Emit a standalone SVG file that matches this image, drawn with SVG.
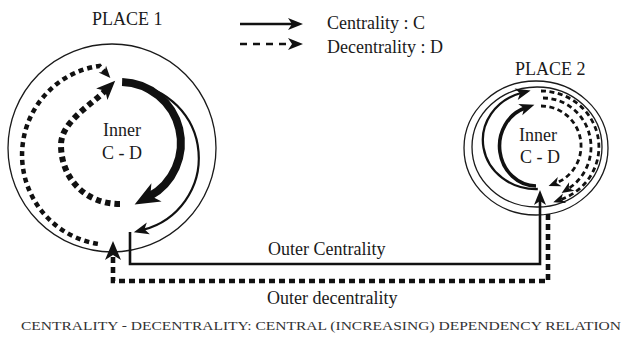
<svg xmlns="http://www.w3.org/2000/svg" width="624" height="338" viewBox="0 0 624 338">
<style>
  .t{font-family:"Liberation Serif","Times New Roman",serif;font-size:18px;fill:#1a1a1a}
  .cap{font-family:"Liberation Serif","Times New Roman",serif;font-size:12.5px;fill:#333}
  .ring{fill:none;stroke:#1a1a1a;stroke-width:1.3}
  .sol{fill:none;stroke:#111}
  .dot{fill:none;stroke:#111}
</style>
<defs>
  <marker id="ah" markerUnits="userSpaceOnUse" markerWidth="15" markerHeight="12" refX="5" refY="6" orient="auto" overflow="visible"><path d="M0,0 L15,6 L0,12 L4,6 Z" fill="#111"/></marker>
  <marker id="ahs" markerUnits="userSpaceOnUse" markerWidth="12" markerHeight="10" refX="4" refY="5" orient="auto" overflow="visible"><path d="M0,0 L12,5 L0,10 L3.5,5 Z" fill="#111"/></marker>
  <marker id="ahb" markerUnits="userSpaceOnUse" markerWidth="25" markerHeight="21" refX="8" refY="10.5" orient="auto" overflow="visible"><path d="M0,0 L25,10.5 L0,21 L7,10.5 Z" fill="#111"/></marker>
  <marker id="ahd" markerUnits="userSpaceOnUse" markerWidth="19" markerHeight="16" refX="6" refY="8" orient="auto" overflow="visible"><path d="M0,0 L19,8 L0,16 L5,8 Z" fill="#111"/></marker>
</defs>

<g id="legend">
  <path class="sol" d="M240,24 H293" stroke-width="2.3" marker-end="url(#ah)"/>
  <path class="dot" d="M240,44 H293" stroke-width="2.6" stroke-dasharray="7 6" marker-end="url(#ah)"/>
  <text class="t" x="327" y="29">Centrality : C</text>
  <text class="t" x="327" y="53">Decentrality : D</text>
</g>

<g id="place1">
  <circle class="ring" cx="112" cy="148" r="104"/>
  <text class="t" x="92" y="25">PLACE 1</text>
  <path class="sol" d="M122.1,82 A61,61 0 0 1 149.5,196.3" stroke-width="8" marker-end="url(#ahb)"/>
  <path class="sol" d="M131.4,84.3 A74,74 0 0 1 143.5,229.6" stroke-width="2.2" marker-end="url(#ah)"/>
  <path class="dot" d="M120,204 C85,204 61,178 61,145 C61,122 90,106 106,90" stroke-width="6" stroke-dasharray="5.5 4" marker-end="url(#ahd)"/>
  <path class="dot" d="M97.9,243.9 A90,90 0 0 1 99.5,65.9 L105,72" stroke-width="4.5" stroke-dasharray="5 4" marker-end="url(#ahs)"/>
  <text class="t" x="122" y="136" text-anchor="middle">Inner</text>
  <text class="t" x="122" y="159" text-anchor="middle">C - D</text>
</g>

<g id="place2">
  <ellipse class="ring" cx="536" cy="148" rx="72" ry="67"/>
  <ellipse class="ring" cx="537" cy="147" rx="65" ry="60"/>
  <text class="t" x="515" y="75">PLACE 2</text>
  <path class="sol" d="M537.8,189 A53,49 0 0 1 521,93" stroke-width="2.3" marker-end="url(#ah)"/>
  <path class="sol" d="M536,186 A37,40 0 0 1 525,108" stroke-width="3.6" marker-end="url(#ah)"/>
  <path class="dot" d="M541,91 A58,56 0 0 1 560.8,199.6" stroke-width="2.8" stroke-dasharray="5 3.5" marker-end="url(#ahs)"/>
  <path class="dot" d="M543,98 A48,49 0 0 1 568.4,188.6" stroke-width="2.8" stroke-dasharray="5 3.5" marker-end="url(#ahs)"/>
  <path class="dot" d="M541,106 A40,40 0 0 1 556,183.1" stroke-width="2.8" stroke-dasharray="5 3.5" marker-end="url(#ahs)"/>
  <text class="t" x="538" y="141" text-anchor="middle">Inner</text>
  <text class="t" x="540" y="163" text-anchor="middle">C - D</text>
</g>

<g id="connectors">
  <path class="sol" d="M130,232 V264 H540 V200" stroke-width="2.6" marker-end="url(#ah)"/>
  <path class="dot" d="M548,214 V281 H113 V254" stroke-width="4.6" stroke-dasharray="6 4" marker-end="url(#ahd)"/>
  <text class="t" x="268" y="255">Outer Centrality</text>
  <text class="t" x="267" y="304">Outer decentrality</text>
</g>

<g id="caption">
  <text class="cap" x="21" y="330" textLength="600" lengthAdjust="spacingAndGlyphs">CENTRALITY - DECENTRALITY: CENTRAL (INCREASING) DEPENDENCY RELATION</text>
</g>
</svg>
